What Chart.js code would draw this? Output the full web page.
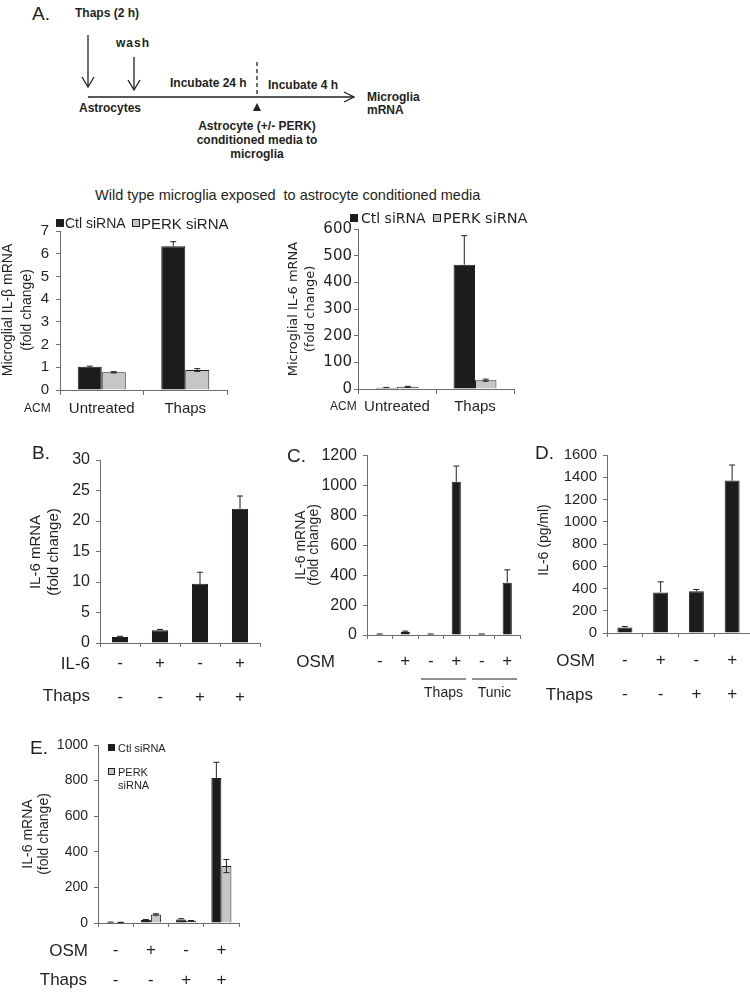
<!DOCTYPE html>
<html>
<head>
<meta charset="utf-8">
<script src="https://cdn.jsdelivr.net/npm/chart.js@4.4.1/dist/chart.umd.min.js"></script>
<style>
  body { margin: 0; background: #fff; }
  #fig { position: relative; width: 750px; height: 995px; overflow: hidden;
         font-family: "Liberation Sans", Arial, sans-serif; color: #231f20; }
  #fig canvas { position: absolute; }
  .t { position: absolute; white-space: nowrap; line-height: 1; }
</style>
</head>
<body>
<div id="fig">
  <svg id="scheme" width="420" height="170" style="position:absolute;left:0;top:0"></svg>
  <canvas id="chartA1" width="240" height="215" style="left:0;top:215px"></canvas>
  <canvas id="chartA2" width="240" height="214" style="left:300px;top:215px"></canvas>
  <canvas id="chartB" width="260" height="290" style="left:20px;top:440px"></canvas>
  <canvas id="chartC" width="255" height="290" style="left:285px;top:440px"></canvas>
  <canvas id="chartD" width="230" height="290" style="left:520px;top:440px"></canvas>
  <canvas id="chartE" width="245" height="265" style="left:15px;top:730px"></canvas>
</div>
<script>
// ---- data ----
const acmLabels = ['Untreated', 'Thaps'];
const seriesNames = ['Ctl siRNA', 'PERK siRNA'];

const il1bCtl = [1.02, 6.33];
const il1bCtlErr = [0.03, 0.2];
const il1bPerk = [0.78, 0.88];
const il1bPerkErr = [0.03, 0.06];

const il6Ctl = [5, 466];
const il6CtlErr = [1, 109];
const il6Perk = [8, 33];
const il6PerkErr = [2, 4];

const plusMinus2 = [['-', '-'], ['+', '-'], ['-', '+'], ['+', '+']];

const bValues = [1.0, 2.1, 9.7, 22.0];
const bErr = [0.1, 0.12, 1.9, 2.1];

const cLabels = ['-', '+', '-', '+', '-', '+'];
const cValues = [5, 20, 5, 1025, 5, 350];
const cErr = [2, 6, 2, 105, 2, 86];
const cGroups = ['Thaps', 'Tunic'];

const dValues = [50, 365, 375, 1370];
const dErr = [8, 95, 16, 140];

const eCtl = [4, 17, 20, 815];
const eCtlErr = [1, 3, 4, 88];
const ePerk = [3, 48, 12, 320];
const ePerkErr = [1, 4, 2, 37];

const ink = '#231f20';
const axisCol = '#6d6d6d';
const darkBar = '#1e1b1c';
const greyBar = '#c6c6c6';
const arial = '"Liberation Sans", Arial, sans-serif';
const verdana = '"DejaVu Sans", Verdana, sans-serif';

const fig = document.getElementById('fig');

function txt(x, y, s, css, anchor) {
  const d = document.createElement('div');
  d.className = 't';
  d.innerHTML = s;
  d.style.left = x + 'px';
  d.style.top = y + 'px';
  const ax = anchor === 'r' ? '-100%' : anchor === 'c' ? '-50%' : '0';
  d.style.transform = `translate(${ax},-50%)`;
  if (css) d.style.cssText += css;
  fig.appendChild(d);
  return d;
}

function vtitle(cx, cy, lines, css, gap) {
  const d = document.createElement('div');
  d.className = 't';
  d.innerHTML = lines.join('<br>');
  d.style.left = cx + 'px';
  d.style.top = cy + 'px';
  d.style.textAlign = 'center';
  d.style.lineHeight = gap + 'px';
  d.style.transform = 'translate(-50%,-50%) rotate(-90deg)';
  if (css) d.style.cssText += css;
  fig.appendChild(d);
}

function swatch(x, y, col, size) {
  const d = document.createElement('div');
  d.style.cssText = `position:absolute;left:${x}px;top:${y - size / 2}px;width:${size - 2}px;height:${size - 2}px;background:${col};border:1px solid ${ink}`;
  fig.appendChild(d);
}

// ---- schematic (panel A top) ----
const svg = document.getElementById('scheme');
svg.innerHTML = `
  <g stroke="${ink}" stroke-width="1.3" fill="none">
    <line x1="88" y1="35" x2="88" y2="87"/>
    <polyline points="82,77 88,87 94,77"/>
    <line x1="134" y1="57" x2="134" y2="90"/>
    <polyline points="128,80 134,90 140,80"/>
    <line x1="88" y1="97" x2="354" y2="97"/>
    <polyline points="344,92 354,97 344,102"/>
    <line x1="257" y1="62" x2="257" y2="97" stroke-dasharray="4,3"/>
  </g>
  <polygon points="257,103 253,111 261,111" fill="${ink}"/>`;

txt(32, 13, 'A.', 'font-size:19px');
const sb = 'font-size:12px;font-weight:bold';
txt(75, 13, 'Thaps (2 h)', sb);
txt(116, 43, 'wash', sb + ';letter-spacing:1px');
txt(170, 83, 'Incubate 24 h', sb);
txt(268, 85, 'Incubate 4 h', sb);
txt(367, 97, 'Microglia', sb);
txt(367, 110, 'mRNA', sb);
txt(79, 108, 'Astrocytes', sb);
txt(257, 126, 'Astrocyte (+/- PERK)', sb, 'c');
txt(257, 140, 'conditioned media to', sb, 'c');
txt(257, 154, 'microglia', sb, 'c');

// ---- titles, legends, annotations ----
txt(95, 195, 'Wild type microglia exposed&nbsp; to astrocyte conditioned media', 'font-size:14.5px');

swatch(56, 223, darkBar, 8);
txt(65, 223, seriesNames[0], 'font-size:14px');
swatch(132, 223, greyBar, 8);
txt(141, 223, seriesNames[1], 'font-size:15px');

swatch(350, 218, darkBar, 8);
txt(361, 218, seriesNames[0], 'font-size:14px;font-family:' + verdana);
swatch(433, 218, greyBar, 8);
txt(443, 218, seriesNames[1], 'font-size:14.5px;font-family:' + verdana);

vtitle(17, 310, ['Microglial IL-&beta; mRNA', '(fold change)'], 'font-size:14px', 19);
vtitle(301, 309, ['Microglial IL-6 mRNA', '(fold change)'], 'font-size:13px;font-family:' + verdana, 17);
txt(24, 408, 'ACM', 'font-size:12px');
txt(330, 406, 'ACM', 'font-size:12px');

txt(32, 452, 'B.', 'font-size:19px');
vtitle(44, 552, ['IL-6 mRNA', '(fold change)'], 'font-size:15px', 18);
txt(90, 663, 'IL-6', 'font-size:17px', 'r');
txt(90, 695, 'Thaps', 'font-size:17px', 'r');

txt(287, 455, 'C.', 'font-size:19px');
vtitle(307, 545, ['IL-6 mRNA', '(fold change)'], 'font-size:14px', 13);
txt(335, 661, 'OSM', 'font-size:17px', 'r');

txt(535, 452, 'D.', 'font-size:19px');
vtitle(543, 540, ['IL-6 (pg/ml)'], 'font-size:14px', 16);
txt(595, 660, 'OSM', 'font-size:17px', 'r');
txt(593, 694, 'Thaps', 'font-size:17px', 'r');

txt(30, 747, 'E.', 'font-size:19px');
vtitle(35, 834, ['IL-6 mRNA', '(fold change)'], 'font-size:14px', 16);
swatch(108, 747, darkBar, 7);
txt(118, 748, seriesNames[0], 'font-size:11px');
swatch(108, 771, greyBar, 7);
txt(118, 772, 'PERK', 'font-size:11px');
txt(118, 785, 'siRNA', 'font-size:11px');
txt(88, 950, 'OSM', 'font-size:17px', 'r');
txt(87, 979, 'Thaps', 'font-size:17px', 'r');

// ---- chart helpers ----
const errorBars = {
  id: 'errorBars',
  afterDatasetsDraw(chart) {
    const ctx = chart.ctx;
    const ys = chart.scales.y;
    chart.data.datasets.forEach((ds, i) => {
      if (!ds.errors) return;
      chart.getDatasetMeta(i).data.forEach((bar, j) => {
        const v = ds.data[j];
        const e = ds.errors[j];
        const top = ys.getPixelForValue(v + e);
        const bot = ds.errBoth ? ys.getPixelForValue(v - e) : bar.y;
        const cap = 3;
        ctx.save();
        ctx.strokeStyle = ink;
        ctx.lineWidth = 1;
        ctx.beginPath();
        ctx.moveTo(bar.x, bot);
        ctx.lineTo(bar.x, top);
        ctx.moveTo(bar.x - cap, top);
        ctx.lineTo(bar.x + cap, top);
        if (ds.errBoth) {
          ctx.moveTo(bar.x - cap, bot);
          ctx.lineTo(bar.x + cap, bot);
        }
        ctx.stroke();
        ctx.restore();
      });
    });
  }
};

// under-bracket lines for panel C
const groupLines = {
  id: 'groupLines',
  afterDraw(chart, args, opts) {
    if (!opts.groups) return;
    const ctx = chart.ctx;
    const xs = chart.scales.x;
    const half = (xs.getPixelForValue(1) - xs.getPixelForValue(0)) / 2;
    opts.groups.forEach((g, k) => {
      const a = xs.getPixelForValue(2 + 2 * k) - half + 3;
      const b = xs.getPixelForValue(3 + 2 * k) + half - 3;
      ctx.save();
      ctx.strokeStyle = ink;
      ctx.lineWidth = 1;
      ctx.beginPath();
      ctx.moveTo(a, opts.lineY);
      ctx.lineTo(b, opts.lineY);
      ctx.stroke();
      ctx.fillStyle = ink;
      ctx.font = '14px ' + arial;
      ctx.textAlign = 'center';
      ctx.textBaseline = 'middle';
      ctx.fillText(g, (a + b) / 2, opts.lineY + 14);
      ctx.restore();
    });
  }
};

function barSet(data, errors, color, both) {
  return {
    data, errors, errBoth: both,
    backgroundColor: color,
    borderColor: ink,
    borderWidth: 1
  };
}

function makeBar(id, labels, datasets, o) {
  return new Chart(document.getElementById(id), {
    type: 'bar',
    data: { labels, datasets },
    options: {
      responsive: false,
      animation: false,
      events: [],
      layout: { padding: o.pad },
      datasets: { bar: { categoryPercentage: o.cat, barPercentage: 1 } },
      plugins: {
        legend: { display: false },
        tooltip: { enabled: false },
        groupLines: o.groups || {}
      },
      scales: {
        x: {
          grid: { drawOnChartArea: false, tickLength: o.xTick, color: axisCol, offset: true },
          border: { color: axisCol },
          ticks: {
            color: ink, padding: o.xPad, maxRotation: 0, autoSkip: false,
            font: { family: arial, size: o.xFont, lineHeight: o.xLine }
          },
          afterFit: s => { s.height = o.xh; }
        },
        y: {
          min: 0, max: o.max,
          grid: { drawOnChartArea: false, tickLength: 4, color: axisCol },
          border: { color: axisCol },
          ticks: {
            stepSize: o.step, color: ink, padding: o.yPad,
            font: { family: o.yFamily || arial, size: o.yFont },
            callback: v => String(v)
          },
          afterFit: s => { s.width = o.yw; }
        }
      }
    },
    plugins: [errorBars, groupLines]
  });
}

// ---- panels ----
makeBar('chartA1', acmLabels, [
  barSet(il1bCtl, il1bCtlErr, darkBar, false),
  barSet(il1bPerk, il1bPerkErr, greyBar, true)
], { pad: { top: 14, left: 0, right: 13, bottom: 0 }, yw: 60, xh: 40, max: 7, step: 1,
     cat: 0.575, xTick: 5, xPad: 5, xFont: 15, xLine: 1.2, yFont: 15, yPad: 7 });

makeBar('chartA2', acmLabels, [
  barSet(il6Ctl, il6CtlErr, darkBar, false),
  barSet(il6Perk, il6PerkErr, greyBar, true)
], { pad: { top: 14, left: 0, right: 26, bottom: 0 }, yw: 58, xh: 40, max: 600, step: 100,
     cat: 0.55, xTick: 5, xPad: 4, xFont: 15, xLine: 1.2, yFont: 15, yPad: 2, yFamily: verdana });

makeBar('chartB', plusMinus2, [
  barSet(bValues, bErr, darkBar, false)
], { pad: { top: 20, left: 0, right: 20, bottom: 0 }, yw: 80, xh: 87, max: 30, step: 5,
     cat: 0.4, xTick: 4, xPad: -1, xFont: 17, xLine: '34px', yFont: 16, yPad: 6 });

makeBar('chartC', cLabels, [
  barSet(cValues, cErr, darkBar, false)
], { pad: { top: 14, left: 0, right: 20, bottom: 0 }, yw: 82, xh: 95, max: 1200, step: 200,
     cat: 0.36, xTick: 4, xPad: 12, xFont: 17, xLine: '20px', yFont: 16, yPad: 6,
     groups: { groups: cGroups, lineY: 239 } });

makeBar('chartD', plusMinus2, [
  barSet(dValues, dErr, darkBar, false)
], { pad: { top: 13, left: 0, right: 0, bottom: 0 }, yw: 87, xh: 97, max: 1600, step: 200,
     cat: 0.42, xTick: 4, xPad: 6, xFont: 17, xLine: '34px', yFont: 15, yPad: 6 });

makeBar('chartE', plusMinus2, [
  barSet(eCtl, eCtlErr, darkBar, false),
  barSet(ePerk, ePerkErr, greyBar, true)
], { pad: { top: 15, left: 0, right: 21, bottom: 0 }, yw: 83, xh: 72, max: 1000, step: 200,
     cat: 0.57, xTick: 4, xPad: 8, xFont: 17, xLine: '30px', yFont: 14, yPad: 6 });
</script>
</body>
</html>
